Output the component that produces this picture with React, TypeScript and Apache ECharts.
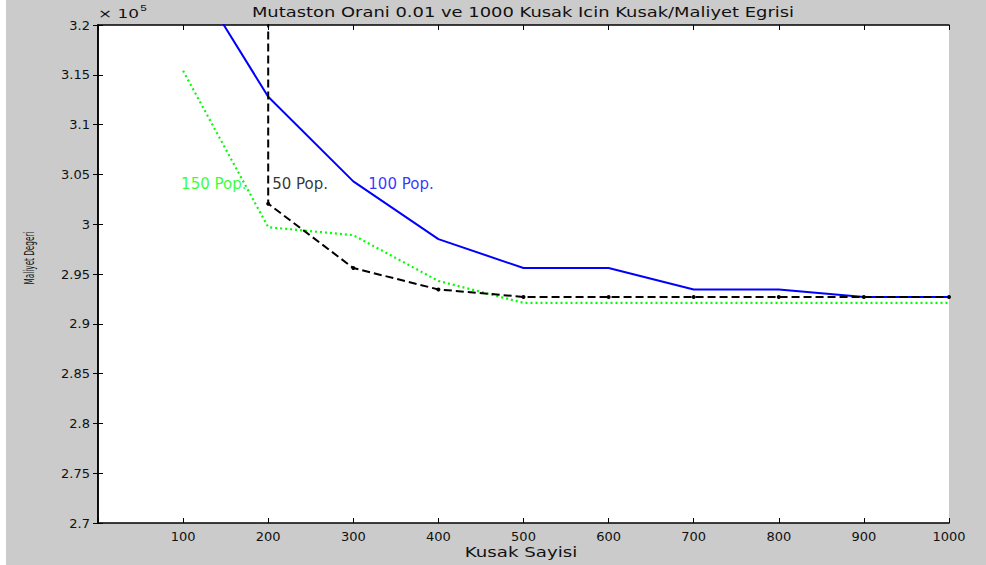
import React, { useEffect, useRef } from "react";
import * as echarts from "echarts";

const generations = [100, 200, 300, 400, 500, 600, 700, 800, 900, 1000];
const pop100 = [326600, 312800, 304300, 298500, 295600, 295600, 293450, 293450, 292700, 292700];
const pop50Gens = [200, 200, 300, 400, 500, 600, 700, 800, 900, 1000];
const pop50 = [335000, 302060, 295600, 293450, 292700, 292700, 292700, 292700, 292700, 292700];
const pop150 = [315400, 299700, 298900, 294300, 292100, 292100, 292100, 292100, 292100, 292100];
const labelNames = ["150 Pop.", "50 Pop.", "100 Pop."];
const labelX = [100, 207, 320];
const labelY = [304000, 304000, 304000];
const labelColors = ["#00ff00", "#000000", "#0000ff"];

const FONT = "'DejaVu Sans', 'Liberation Sans', sans-serif";
const TEXT = "#111";

export default function App() {
  const ref = useRef<HTMLDivElement>(null);
  useEffect(() => {
    if (!ref.current) return;
    const chart = echarts.init(ref.current, undefined, { renderer: "svg" });
    const axisCommon = {
      axisLine: { show: true, lineStyle: { color: "#000", width: 1.5 } },
      axisTick: { show: true, inside: true, length: 5, lineStyle: { color: "#000", width: 1 } },
      splitLine: { show: false },
    };
    chart.setOption({
      animation: false,
      backgroundColor: "#ffffff",
      textStyle: { fontFamily: FONT },
      grid: {
        left: 98,
        top: 25,
        right: 37,
        bottom: 42,
        show: true,
        backgroundColor: "#ffffff",
        borderColor: "#000",
        borderWidth: 0,
      },
      graphic: [
        {
          type: "rect",
          z: -100,
          shape: { x: 6, y: 0, width: 980, height: 565 },
          style: { fill: "#cbcbcb" },
          silent: true,
        },
        {
          type: "text",
          x: 523,
          y: 12,
          scaleX: 1.28,
          style: {
            text: "Mutaston Orani 0.01 ve 1000 Kusak Icin Kusak/Maliyet Egrisi",
            fontFamily: FONT,
            fontSize: 14,
            fill: TEXT,
            align: "center",
            verticalAlign: "middle",
          },
        },
        {
          type: "text",
          x: 98,
          y: 14,
          scaleX: 1.3,
          style: {
            text: "× 10{s|5}",
            fontFamily: FONT,
            fontSize: 13,
            fill: TEXT,
            verticalAlign: "middle",
            rich: { s: { fontSize: 9, padding: [0, 0, 12, 1], fill: TEXT } },
          },
        },
        {
          type: "text",
          x: 521,
          y: 552,
          scaleX: 1.3,
          style: {
            text: "Kusak Sayisi",
            fontFamily: FONT,
            fontSize: 14,
            fill: TEXT,
            align: "center",
            verticalAlign: "middle",
          },
        },
        {
          type: "text",
          x: 30,
          y: 258,
          rotation: Math.PI / 2,
          scaleX: 0.52,
          style: {
            text: "Maliyet Degeri",
            fontFamily: FONT,
            fontSize: 14,
            fill: TEXT,
            align: "center",
            verticalAlign: "middle",
          },
        },
      ],
      xAxis: [
        {
          type: "value",
          min: 0,
          max: 1000,
          interval: 100,
          position: "bottom",
          axisLabel: {
            margin: 7,
            fontFamily: FONT,
            fontSize: 13,
            color: TEXT,
            formatter: (v: number) => (v === 0 ? "" : String(v)),
          },
          ...axisCommon,
        },
        {
          type: "value",
          min: 0,
          max: 1000,
          interval: 100,
          position: "top",
          axisLabel: { show: false },
          ...axisCommon,
        },
      ],
      yAxis: [
        {
          type: "value",
          min: 270000,
          max: 320000,
          interval: 5000,
          position: "left",
          axisLabel: {
            margin: 8,
            fontFamily: FONT,
            fontSize: 13,
            color: TEXT,
            formatter: (v: number) => String(parseFloat((v / 1e5).toFixed(2))),
          },
          ...axisCommon,
        },
        {
          type: "value",
          min: 270000,
          max: 320000,
          interval: 5000,
          position: "right",
          axisLabel: { show: false },
          ...axisCommon,
        },
      ],
      series: [
        {
          name: "150 Pop.",
          type: "line",
          data: generations.map((g, i) => [g, pop150[i]]),
          showSymbol: false,
          clip: true,
          lineStyle: { color: "#00ff00", width: 2.2, type: [2, 3] },
          z: 2,
        },
        {
          name: "100 Pop.",
          type: "line",
          data: generations.map((g, i) => [g, pop100[i]]),
          showSymbol: false,
          clip: true,
          lineStyle: { color: "#0000ff", width: 2 },
          z: 3,
        },
        {
          name: "50 Pop.",
          type: "line",
          data: pop50Gens.map((g, i) => [g, pop50[i]]),
          symbol: "circle",
          symbolSize: 4,
          showSymbol: true,
          clip: true,
          itemStyle: { color: "#000" },
          lineStyle: { color: "#000", width: 2, type: [8, 4] },
          z: 4,
        },
        {
          name: "labels",
          type: "scatter",
          symbolSize: 0,
          clip: false,
          z: 5,
          data: labelNames.map((n, i) => ({
            name: n,
            value: [labelX[i], labelY[i]],
            label: { color: labelColors[i] },
          })),
          label: {
            show: true,
            position: "right",
            distance: -2,
            fontFamily: FONT,
            fontSize: 15,
            formatter: (p: any) => p.name,
          },
        },
      ],
    });
    return () => chart.dispose();
  }, []);
  return (
    <div
      ref={ref}
      style={{ position: "fixed", left: 0, top: 0, width: 986, height: 565 }}
    />
  );
}
